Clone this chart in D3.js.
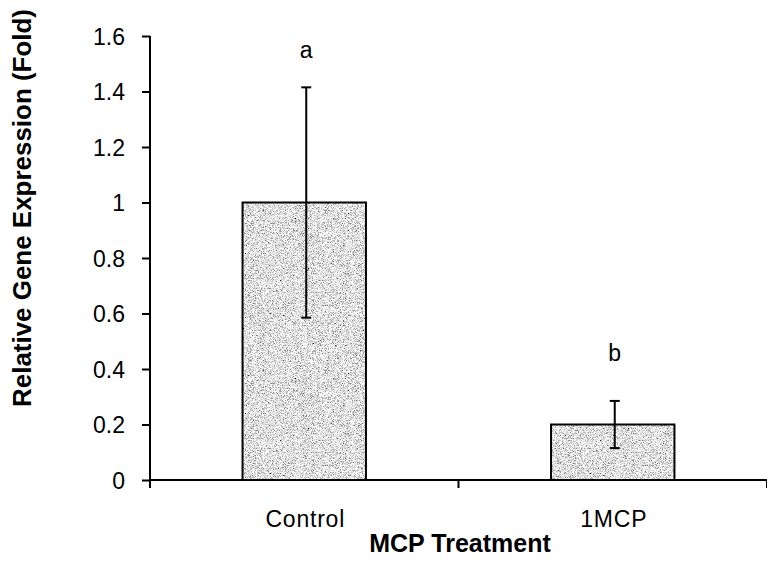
<!DOCTYPE html>
<html>
<head>
<meta charset="utf-8">
<script src="https://cdn.jsdelivr.net/npm/d3@7"></script>
<style>
  html, body { margin: 0; padding: 0; background: #fff; }
  svg { display: block; font-family: "Liberation Sans", Arial, sans-serif; }
</style>
</head>
<body>
<svg id="chart" width="767" height="565"></svg>
<script>
// ---- data ----
const categories = ["Control", "1MCP"];
const values = [1.0, 0.2];
const errors = [0.415, 0.085];
const letters = ["a", "b"];
const letterLevels = [1.52, 0.43];
const yTicks = [0, 0.2, 0.4, 0.6, 0.8, 1, 1.2, 1.4, 1.6];
const yTitle = "Relative Gene Expression (Fold)";
const xTitle = "MCP Treatment";

(function () {
// ---- layout ----
const svg = d3.select("#chart");
const mLeft = 150, mRight = 767, mTop = 36, mBottom = 480;

const y = d3.scaleLinear().domain([0, 1.6]).range([mBottom, mTop]);
const x = d3.scaleBand().domain(categories).range([mLeft, mRight])
  .paddingInner(0.6).paddingOuter(0.3);
const slot = d3.scaleBand().domain(categories).range([mLeft, mRight]).padding(0);

// speckled texture filter
const defs = svg.append("defs");
const f = defs.append("filter").attr("id", "speckle")
  .attr("x", 0).attr("y", 0).attr("width", "100%").attr("height", "100%");
f.append("feTurbulence").attr("type", "fractalNoise")
  .attr("baseFrequency", 1.6).attr("numOctaves", 1).attr("seed", 7).attr("result", "n");
f.append("feColorMatrix").attr("in", "n").attr("type", "matrix")
  .attr("values", "2.4 0 0 0 -0.44  2.4 0 0 0 -0.44  2.4 0 0 0 -0.44  0 0 0 0 1").attr("result", "g");
f.append("feComposite").attr("in", "g").attr("in2", "SourceGraphic").attr("operator", "in");

// bars
const bars = svg.append("g");
bars.selectAll("rect.fill").data(categories).join("rect")
  .attr("class", "fill")
  .attr("x", d => x(d)).attr("width", x.bandwidth())
  .attr("y", (d, i) => y(values[i])).attr("height", (d, i) => y(0) - y(values[i]))
  .attr("fill", "#b8b8b8").attr("filter", "url(#speckle)");
bars.selectAll("rect.edge").data(categories).join("rect")
  .attr("class", "edge")
  .attr("x", d => x(d)).attr("width", x.bandwidth())
  .attr("y", (d, i) => y(values[i])).attr("height", (d, i) => y(0) - y(values[i]))
  .attr("fill", "none").attr("stroke", "#000").attr("stroke-width", 2);

// error bars
const eg = svg.append("g").attr("stroke", "#000").attr("stroke-width", 2);
categories.forEach((c, i) => {
  const cx = x(c) + x.bandwidth() / 2 + 2;
  const hi = y(values[i] + errors[i]), lo = y(values[i] - errors[i]);
  eg.append("line").attr("x1", cx).attr("x2", cx).attr("y1", hi).attr("y2", lo);
  eg.append("line").attr("x1", cx - 5).attr("x2", cx + 5).attr("y1", hi).attr("y2", hi);
  eg.append("line").attr("x1", cx - 5).attr("x2", cx + 5).attr("y1", lo).attr("y2", lo);
});

// significance letters
svg.append("g").selectAll("text").data(categories).join("text")
  .attr("x", d => x(d) + x.bandwidth() / 2 + 2)
  .attr("y", (d, i) => y(letterLevels[i]))
  .attr("text-anchor", "middle").attr("font-size", 23)
  .text((d, i) => letters[i]);

// y axis
const yAxis = svg.append("g").attr("transform", `translate(${mLeft},0)`)
  .call(d3.axisLeft(y).tickValues(yTicks).tickSize(8).tickPadding(17)
    .tickFormat(d => d3.format("~g")(d)));
yAxis.select(".domain").attr("d", `M0,${mTop}H0V${mBottom}`).attr("stroke-width", 2);
yAxis.selectAll(".tick line").attr("stroke-width", 2);
yAxis.selectAll(".tick text").attr("font-size", 23).attr("fill", "#000")
  .attr("font-family", "Liberation Sans, Arial, sans-serif").attr("dy", "0.36em");

// x axis (ticks at category boundaries)
const xg = svg.append("g").attr("transform", `translate(0,${mBottom})`);
xg.append("line").attr("x1", mLeft).attr("x2", mRight).attr("stroke", "#000").attr("stroke-width", 2);
const bounds = categories.map(c => slot(c)).concat([mRight]);
xg.selectAll("line.tk").data(bounds).join("line").attr("class", "tk")
  .attr("x1", d => d).attr("x2", d => d).attr("y1", 0).attr("y2", 8)
  .attr("stroke", "#000").attr("stroke-width", 2);
xg.selectAll("text").data(categories).join("text")
  .attr("x", d => x(d) + x.bandwidth() / 2 + 1).attr("y", 47)
  .attr("text-anchor", "middle").attr("font-size", 23).attr("letter-spacing", 0.8)
  .text(d => d);

// titles
svg.append("text").attr("x", 460).attr("y", 552)
  .attr("text-anchor", "middle").attr("font-size", 25).attr("font-weight", "bold")
  .text(xTitle);
svg.append("text").attr("transform", "translate(31,208) rotate(-90)")
  .attr("text-anchor", "middle").attr("font-size", 26).attr("font-weight", "bold")
  .attr("textLength", 398).attr("lengthAdjust", "spacingAndGlyphs")
  .text(yTitle);
})();
</script>
</body>
</html>
